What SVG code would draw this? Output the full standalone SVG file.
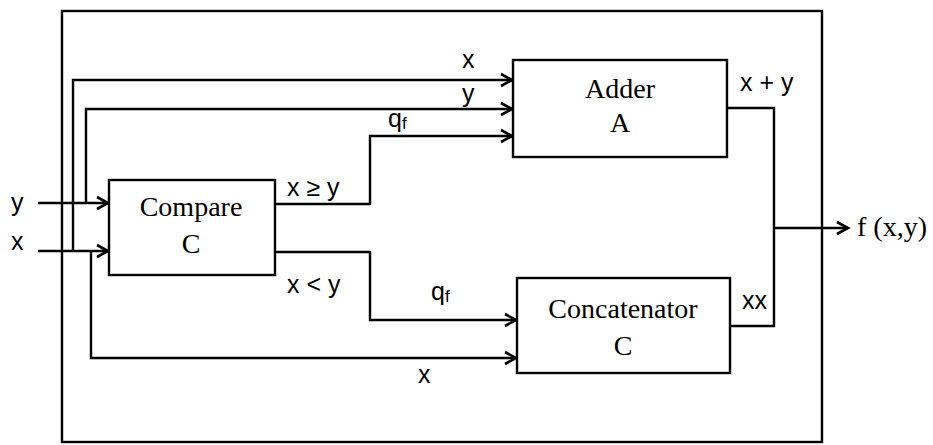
<svg xmlns="http://www.w3.org/2000/svg" width="933" height="445" viewBox="0 0 933 445">
<style>
.box{fill:#fff;stroke:#000;stroke-width:2.4}
.frame{fill:none;stroke:#000;stroke-width:2.4}
.wire{fill:none;stroke:#000;stroke-width:2.4}
.serif{font-family:"Liberation Serif","Times New Roman",serif;font-size:28px;fill:#000}
.sans{font-family:"Liberation Sans",Arial,sans-serif;font-size:25px;fill:#000}
</style>
<defs>
<marker id="arr" markerUnits="userSpaceOnUse" markerWidth="14" markerHeight="14" refX="12" refY="7" orient="auto" overflow="visible">
<path d="M1,1 L12,7 L1,13" fill="none" stroke="#000" stroke-width="2.6"/>
</marker>
</defs>
<rect width="933" height="445" fill="#fff"/>
<rect class="frame" x="62" y="11" width="760" height="431"/>
<g id="connectors">
<path class="wire" d="M38,203 H108" marker-end="url(#arr)"/>
<path class="wire" d="M38,251 H108" marker-end="url(#arr)"/>
<path class="wire" d="M73,251 V80 H512" marker-end="url(#arr)"/>
<path class="wire" d="M86,203 V109 H512" marker-end="url(#arr)"/>
<path class="wire" d="M275,204 H370 V136 H512" marker-end="url(#arr)"/>
<path class="wire" d="M275,252 H370 V320 H516" marker-end="url(#arr)"/>
<path class="wire" d="M91,251 V358 H516" marker-end="url(#arr)"/>
<path class="wire" d="M727,108 H774 V326 H730"/>
<path class="wire" d="M774,228 H848" marker-end="url(#arr)"/>
</g>
<g id="compare">
<rect class="box" x="109" y="180" width="166" height="95"/>
<text class="serif" x="191" y="216" text-anchor="middle">Compare</text>
<text class="serif" x="191" y="253" text-anchor="middle">C</text>
</g>
<g id="adder">
<rect class="box" x="513" y="60" width="214" height="97"/>
<text class="serif" x="620" y="98" text-anchor="middle">Adder</text>
<text class="serif" x="620" y="132" text-anchor="middle">A</text>
</g>
<g id="concatenator">
<rect class="box" x="517" y="278" width="213" height="95"/>
<text class="serif" x="623" y="318" text-anchor="middle">Concatenator</text>
<text class="serif" x="623" y="355" text-anchor="middle">C</text>
</g>
<g id="labels">
<text class="sans" x="11" y="211">y</text>
<text class="sans" x="11" y="250">x</text>
<text class="sans" x="462" y="68">x</text>
<text class="sans" x="462" y="102">y</text>
<text class="sans" x="388" y="127">q<tspan font-size="17" dy="2">f</tspan></text>
<text class="sans" x="287" y="196">x ≥ y</text>
<text class="sans" x="287" y="293">x &lt; y</text>
<text class="sans" x="431" y="300">q<tspan font-size="17" dy="2">f</tspan></text>
<text class="sans" x="418" y="383">x</text>
<text class="sans" x="740" y="91">x + y</text>
<text class="sans" x="742" y="309">xx</text>
<text class="serif" x="857" y="236">f (x,y)</text>
</g>
</svg>
